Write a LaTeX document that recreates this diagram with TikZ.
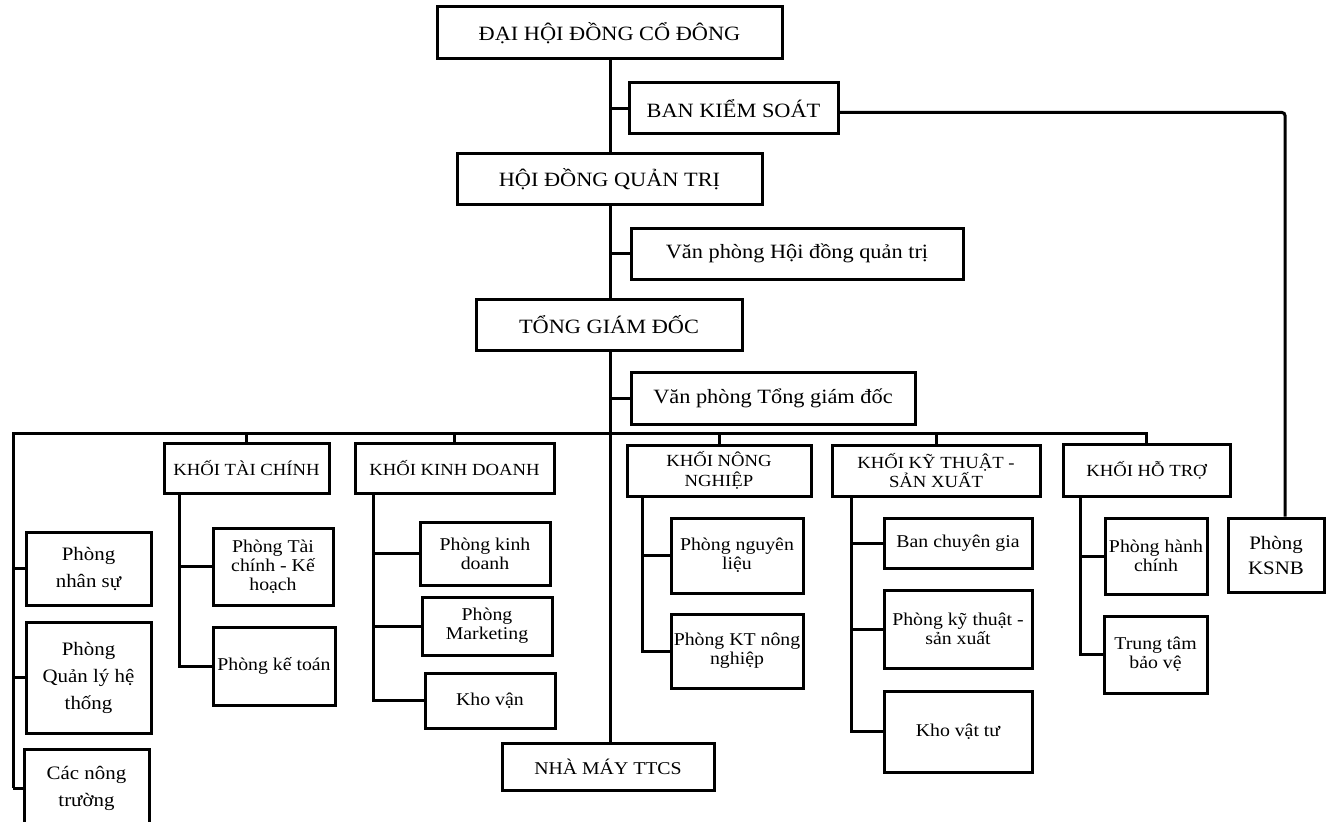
\documentclass[tikz,border=0pt]{standalone}
\usepackage{fontspec}
\setmainfont{Liberation Serif}[FakeStretch=1.1]
\usetikzlibrary{calc}
\tikzset{
  box/.style={draw=black, line width=3pt, fill=white, inner sep=0pt, align=center,
    font=\fontsize{18}{19}\selectfont},
  top/.style={font=\fontsize{20.3}{22}\selectfont},
  khoi/.style={font=\fontsize{17}{19.5}\selectfont},
  left/.style={font=\fontsize{19}{27}\selectfont},
  conn/.style={draw=black, line width=3pt, line join=miter},
}
\newcommand\bx[7][]{%
  \pgfmathsetmacro\bxcx{(#3+#5)/2}%
  \pgfmathsetmacro\bxcy{(#4+#6)/2}%
  \pgfmathsetmacro\bxw{#5-#3}%
  \pgfmathsetmacro\bxh{#6-#4}%
  \node[box,#1,minimum width=\bxw pt,minimum height=\bxh pt] (#2) at (\bxcx,\bxcy) {#7};}
\begin{document}
\begin{tikzpicture}[x=1pt,y=-1pt]
\fill[white] (0,0) rectangle (1329,821);
\useasboundingbox (0,0) rectangle (1329,821);
\coordinate (tk) at (610,0);
\coordinate (bl) at (13,433);
% boxes
\bx[top]{dh}{437}{7}{782}{59}{ĐẠI HỘI ĐỒNG CỔ ĐÔNG}
\bx[top]{bks}{629}{83}{838}{134}{BAN KIỂM SOÁT}
\bx[top]{hd}{457}{154}{762}{204}{HỘI ĐỒNG QUẢN TRỊ}
\bx[top]{vphd}{631}{228}{963}{279}{Văn phòng Hội đồng quản trị}
\bx[top]{tgd}{476}{299}{742}{350}{TỔNG GIÁM ĐỐC}
\bx[top]{vptgd}{631}{372}{915}{424}{Văn phòng Tổng giám đốc}
\bx[khoi]{ktc}{164}{443}{329}{493}{KHỐI TÀI CHÍNH}
\bx[khoi]{kkd}{355}{443}{554}{493}{KHỐI KINH DOANH}
\bx[khoi]{knn}{627}{445}{811}{496}{KHỐI NÔNG\\NGHIỆP}
\bx[khoi]{kkt}{832}{445}{1040}{496}{KHỐI KỸ THUẬT -\\SẢN XUẤT}
\bx[khoi]{kht}{1063}{444}{1230}{496}{KHỐI HỖ TRỢ}
\bx[left]{pns}{26}{532}{151}{605}{Phòng\\nhân sự}
\bx[left]{pql}{26}{622}{151}{733}{Phòng\\Quản lý hệ\\thống}
\bx[left]{cnt}{24}{749}{149}{827}{Các nông\\trường}
\bx{ptc}{213}{528}{333}{605}{Phòng Tài\\chính - Kế\\hoạch}
\bx{pkt}{213}{627}{335}{705}{Phòng kế toán}
\bx{pkd}{420}{522}{550}{585}{Phòng kinh\\doanh}
\bx{pmk}{422}{597}{552}{655}{Phòng\\Marketing}
\bx{kv}{425}{673}{555}{728}{Kho vận}
\bx[font=\fontsize{18}{20}\selectfont]{nm}{502}{743}{714}{790}{NHÀ MÁY TTCS}
\bx{pnl}{671}{518}{803}{593}{Phòng nguyên\\liệu}
\bx{pktnn}{671}{614}{803}{688}{Phòng KT nông\\nghiệp}
\bx{bcg}{884}{518}{1032}{568}{Ban chuyên gia}
\bx{pktsx}{884}{590}{1032}{668}{Phòng kỹ thuật -\\sản xuất}
\bx{kvt}{884}{691}{1032}{772}{Kho vật tư}
\bx{phc}{1105}{518}{1207}{594}{Phòng hành\\chính}
\bx{ttbv}{1104}{616}{1207}{693}{Trung tâm\\bảo vệ}
\bx[font=\fontsize{19}{25}\selectfont]{ksnb}{1228}{518}{1324}{592}{Phòng\\KSNB}
% trunk
\draw[conn] (dh.south -| tk) -- (hd.north -| tk);
\draw[conn] (tk |- bks.west) -- (bks.west);
\coordinate (ksx) at ($(ksnb.north)+(9,0)$);
\draw[conn, rounded corners=3pt] ([yshift=-4pt]bks.east) -| (ksx);
\draw[conn] (hd.south -| tk) -- (tgd.north -| tk);
\draw[conn] (tk |- vphd.west) -- (vphd.west);
\draw[conn] (tgd.south -| tk) -- (nm.north -| tk);
\draw[conn] (tk |- vptgd.west) -- (vptgd.west);
% bus
\draw[conn] (cnt.west -| bl) -- (bl) -- (bl -| kht.north) -- (kht.north);
\foreach \n in {pns,pql,cnt} \draw[conn] (bl |- \n.west) -- (\n.west);
\foreach \n in {ktc,kkd,knn,kkt} \draw[conn] (bl -| \n.north) -- (\n.north);
% khoi tai chinh
\coordinate (ktcs) at ($(ktc.south west)+(17,0)$);
\draw[conn] (ktcs) |- (pkt.west);
\draw[conn] (ktcs |- ptc.west) -- (ptc.west);
% khoi kinh doanh
\coordinate (kkds) at ($(kkd.south west)+(20,0)$);
\draw[conn] (kkds) |- (kv.west);
\foreach \n in {pkd,pmk} \draw[conn] (kkds |- \n.west) -- (\n.west);
% khoi nong nghiep
\coordinate (knns) at ($(knn.south west)+(17,0)$);
\draw[conn] (knns) |- (pktnn.west);
\draw[conn] (knns |- pnl.west) -- (pnl.west);
% khoi ky thuat
\coordinate (kkts) at ($(kkt.south west)+(21,0)$);
\draw[conn] (kkts) |- (kvt.west);
\foreach \n in {bcg,pktsx} \draw[conn] (kkts |- \n.west) -- (\n.west);
% khoi ho tro
\coordinate (khts) at ($(kht.south west)+(19,0)$);
\draw[conn] (khts) |- (ttbv.west);
\draw[conn] (khts |- phc.west) -- (phc.west);
\end{tikzpicture}
\end{document}
